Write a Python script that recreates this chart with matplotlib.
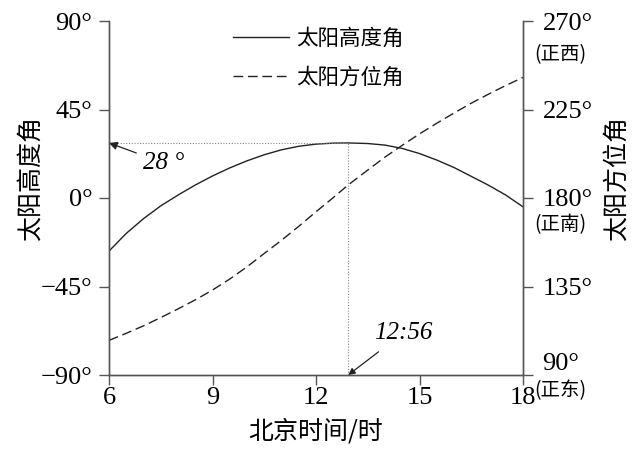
import matplotlib.pyplot as plt

# Beijing time (hours) and values
hours = [6.0, 6.5, 7.0, 7.5, 8.0, 8.5, 9.0, 9.5, 10.0, 10.5, 11.0, 11.5, 12.0,
         12.5, 12.93, 13.5, 14.0, 14.5, 15.0, 15.5, 16.0, 16.5, 17.0, 17.5, 18.0]
altitude = [-27.0, -18.0, -10.5, -4.0, 1.5, 6.6, 11.2, 15.3, 18.9, 22.0, 24.5, 26.3, 27.4,
            27.9, 28.0, 27.7, 26.9, 25.2, 22.6, 19.3, 15.5, 11.0, 6.5, 1.5, -4.5]
azimuth = [107.6, 111.2, 115.0, 119.2, 123.6, 128.2, 133.2, 138.8, 145.0, 151.8, 158.5, 165.6, 173.0,
           180.2, 186.6, 194.2, 200.8, 206.8, 212.6, 218.0, 223.2, 228.2, 232.8, 237.2, 241.3]

noon_time = 12 + 56 / 60
noon_alt = 28

x_ticks = [6, 9, 12, 15, 18]
alt_ticks = [-90, -45, 0, 45, 90]
alt_labels = ['−90°', '−45°', '0°', '45°', '90°']
az_ticks = [90, 135, 180, 225, 270]
az_labels = ['90°', '135°', '180°', '225°', '270°']
dir_labels = {90: '(正东)', 180: '(正南)', 270: '(正西)'}

serif = 'Liberation Serif'
cjk = ['Noto Sans CJK SC', 'DejaVu Sans']
ink = '#222222'
axc = '#555555'
H = 451

fig = plt.figure(figsize=(6.33, 4.51), dpi=100)
ax = fig.add_axes([109 / 633, 76 / H, 414 / 633, 354 / H])
ax2 = ax.twinx()

l1, = ax.plot(hours, altitude, color=ink, lw=1.0, label='太阳高度角')
l2, = ax2.plot(hours, azimuth, color=ink, lw=1.0, dashes=(7.0, 3.4), label='太阳方位角')

# guide lines for the noon maximum
ax.plot([6, noon_time], [noon_alt, noon_alt], color='#888888', lw=0.8, ls=(0, (1, 1.5)))
ax.plot([noon_time, noon_time], [-90, noon_alt], color='#888888', lw=0.8, ls=(0, (1, 1.5)))

ax.set_xlim(6, 18)
ax.set_ylim(-90, 90)
ax2.set_ylim(90, 270)

for a in (ax, ax2):
    a.spines['top'].set_visible(False)
    for s in a.spines.values():
        s.set_color(axc)
        s.set_linewidth(1.0)

ax.set_xticks(x_ticks)
ax.set_xticklabels([str(v) for v in x_ticks], fontfamily=serif, fontsize=19)
ax.set_yticks(alt_ticks)
ax.set_yticklabels(alt_labels, fontfamily=serif, fontsize=19)
ax.tick_params(axis='x', direction='out', length=7, width=1, color=axc, pad=2)
ax.tick_params(axis='y', direction='out', length=7, width=1, color=axc, pad=5)

ax2.set_yticks(az_ticks)
ax2.set_yticklabels(az_labels, fontfamily=serif, fontsize=19)
ax2.tick_params(axis='y', direction='out', length=7, width=1, color=axc, pad=7)
ax2.get_yticklabels()[0].set_verticalalignment('bottom')

for v, txt in dir_labels.items():
    off = {90: -16, 180: -27, 270: -34}[v]
    ax2.annotate(txt, xy=(1, v), xycoords=('axes fraction', 'data'),
                 xytext=(11, off), textcoords='offset pixels',
                 fontfamily=cjk, fontsize=14, ha='left', va='center')

ax.set_xlabel('北京时间/时', fontfamily=cjk, fontsize=18, va='center')
ax.xaxis.set_label_coords(0.5, -0.161)
ax.set_ylabel('太阳高度角', fontfamily=cjk, fontsize=18, va='center')
ax.yaxis.set_label_coords(-0.19, 0.556)
ax2.set_ylabel('太阳方位角', fontfamily=cjk, fontsize=18, rotation=90, va='center')
ax2.yaxis.set_label_coords(1.227, 0.556)

ax.annotate('28 °', xy=(6, noon_alt), xytext=(143, H - 163), textcoords='figure pixels',
            fontfamily=serif, fontstyle='italic', fontsize=18, ha='left', va='center',
            arrowprops=dict(arrowstyle='-|>', color=ink, lw=0.9, mutation_scale=12,
                            shrinkA=3, shrinkB=0))
ax.annotate('12:56', xy=(noon_time, -90), xytext=(374, H - 333), textcoords='figure pixels',
            fontfamily=serif, fontstyle='italic', fontsize=18, ha='left', va='center',
            arrowprops=dict(arrowstyle='-|>', color=ink, lw=0.9, mutation_scale=10,
                            shrinkA=6, shrinkB=0))

leg = ax.legend(handles=[l1, l2], loc='upper left', bbox_to_anchor=(233 / 633, 1 - 28 / H),
                bbox_transform=fig.transFigure, frameon=False, borderpad=0, borderaxespad=0,
                handlelength=2.6, handletextpad=0.35, labelspacing=0.78,
                prop={'family': cjk, 'size': 15.5})

fig.savefig('out.png', dpi=100)
